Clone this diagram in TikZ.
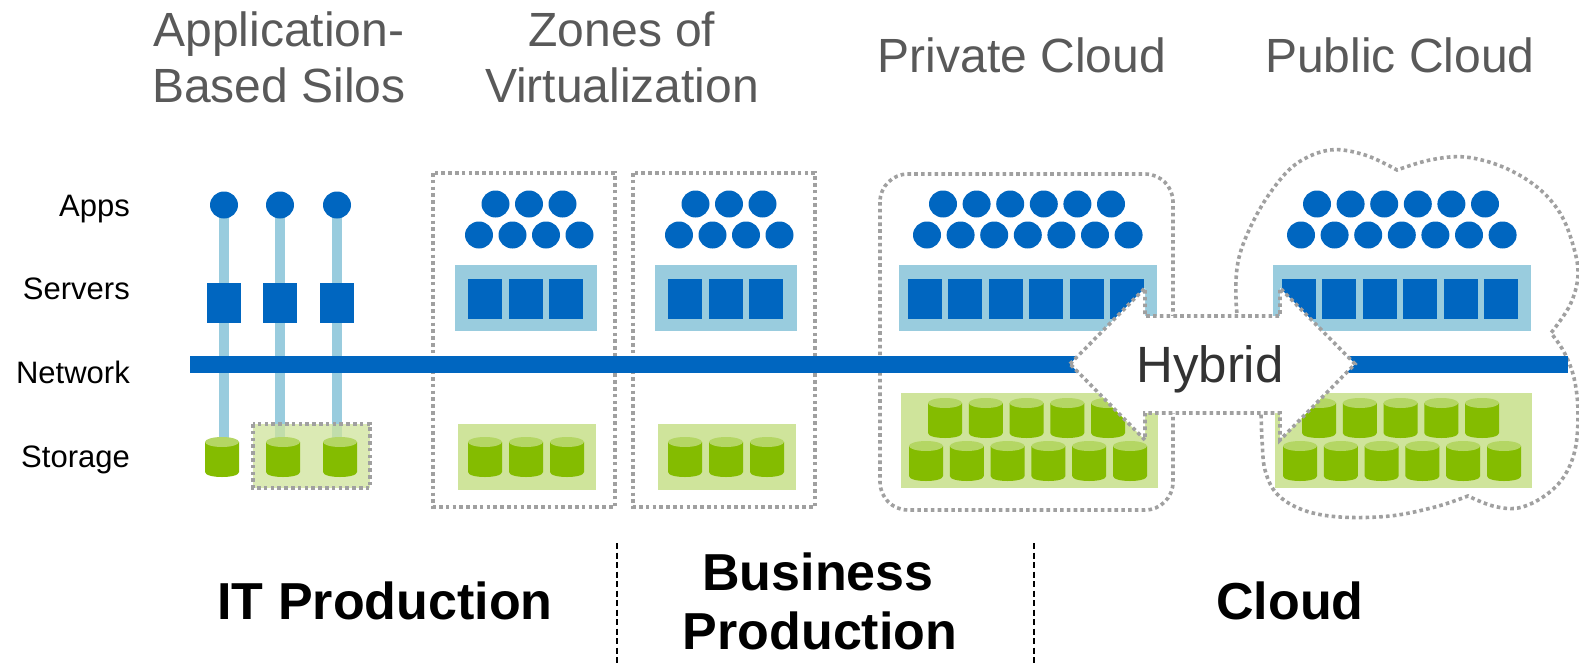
\documentclass[tikz,border=0pt]{standalone}
\usepackage{fontspec}
\setmainfont{Liberation Sans}
\definecolor{netblue}{RGB}{0,102,192}
\definecolor{paleblue}{RGB}{153,204,222}
\definecolor{cylgreen}{RGB}{132,188,0}
\definecolor{cyltop}{RGB}{180,214,100}
\definecolor{palegreen}{RGB}{207,228,155}
\definecolor{dotgray}{RGB}{160,160,160}
\definecolor{labelgray}{RGB}{89,89,89}
\definecolor{hybridtext}{RGB}{51,51,51}
\tikzset{
  dotframe/.style={draw=dotgray, line width=3.6pt, dash pattern=on 3.6pt off 3.2pt},
  rowlabel/.style={font=\fontsize{31}{36}\selectfont, anchor=base east, inner sep=0pt},
  toplabel/.style={font=\fontsize{48}{56}\selectfont, text=labelgray, anchor=base, inner sep=0pt},
  eralabel/.style={font=\fontsize{52}{60}\selectfont\bfseries, anchor=base, inner sep=0pt},
  sepline/.style={draw=black, line width=2pt, dash pattern=on 6pt off 3.5pt},
  silobar/.style={draw=paleblue, line width=10pt},
  netbar/.style={draw=netblue, line width=17pt},
  appdot/.pic={\fill[netblue] (0,0) ellipse [x radius=14, y radius=13.5];},
  srv/.pic={\fill[netblue] (0,0) rectangle (34,40);},
  drum/.pic={
    \fill[cylgreen] (0,5) -- (0,35) .. controls (0,41.67) and (34,41.67) .. (34,35) -- (34,5) -- cycle;
    \fill[cyltop] (17,5) ellipse [x radius=17, y radius=5];
  },
}
\begin{document}
\begin{tikzpicture}[x=1pt, y=-1pt]
\useasboundingbox (0,0) rectangle (1579,666);
\fill[white] (0,0) rectangle (1579,666);

% ---- frames: virtualization zones, private cloud, public cloud outline
\foreach \dx in {0,200} {
  \draw[dotframe] (433+\dx,173) rectangle (615+\dx,507);
}
\draw[dotframe, rounded corners=28pt] (880,174) rectangle (1173,510);
\draw[dotframe]
  plot[smooth, tension=0.6] coordinates {(1240,340) (1236,300) (1238,262) (1250,228) (1270,193) (1296,164) (1330,150) (1365,155) (1397,170)}
  -- plot[smooth, tension=0.6] coordinates {(1397,170) (1430,160) (1465,157) (1503,167) (1537,187) (1560,213) (1573,245) (1578,275) (1570,305) (1551,333)}
  -- plot[smooth, tension=0.6] coordinates {(1551,333) (1564,352) (1574,378) (1578,412) (1575,450) (1563,478) (1543,497) (1518,508) (1493,506) (1468,496)}
  -- plot[smooth, tension=0.6] coordinates {(1468,496) (1435,507) (1390,516) (1340,517) (1303,510) (1277,494) (1265,470) (1262,440) (1260,405) (1252,375) (1240,340)};

% ---- application-based silos
\foreach \x/\n in {224/1,280/2,337/3} {
  \coordinate (siloTop\n) at (\x,205);
  \coordinate (siloBot\n) at (\x,442);
  \draw[silobar] (siloTop\n) -- (siloBot\n);
}
\fill[palegreen, fill opacity=0.75] (253,424) rectangle (370,488);
\draw[dotframe] (253,424) rectangle (370,488);

% ---- network backbone
\coordinate (netW) at (190,364.5);
\coordinate (netE) at (1568,364.5);
\draw[netbar] (netW) -- (netE);

\foreach \x in {224,280,337} {
  \pic at (\x,205) {appdot};
  \pic at (\x-17,283) {srv};
}
\foreach \x in {205,266,323} {
  \pic at (\x,437) {drum};
}

% ---- zones of virtualization
\foreach \dx in {0,200} {
  \foreach \k in {0,1,2} \pic at ({495.5+33.5*\k+\dx},204) {appdot};
  \foreach \k in {0,...,3} \pic at ({479+33.5*\k+\dx},235) {appdot};
  \fill[paleblue] (455+\dx,265) rectangle (597+\dx,331);
  \foreach \k in {0,1,2} \pic at ({468+40.5*\k+\dx},279) {srv};
  \fill[palegreen] (458+\dx,424) rectangle (596+\dx,490);
  \foreach \k in {0,1,2} \pic at ({468+41*\k+\dx},437) {drum};
}

% ---- private and public cloud pools
\foreach \dx in {0,374} {
  \foreach \k in {0,...,5} \pic at ({943+33.6*\k+\dx},204) {appdot};
  \foreach \k in {0,...,6} \pic at ({927+33.6*\k+\dx},235) {appdot};
  \fill[paleblue] (899+\dx,265) rectangle (1157+\dx,331);
  \foreach \k in {0,...,5} \pic at ({908+40.4*\k+\dx},279) {srv};
  \fill[palegreen] (901+\dx,393) rectangle (1158+\dx,488);
  \foreach \k in {0,...,4} \pic at ({928+40.75*\k+\dx},398) {drum};
  \foreach \k in {0,...,5} \pic at ({909+40.8*\k+\dx},441) {drum};
}

% ---- hybrid double arrow
\draw[dotframe, fill=white] (1070,364) -- (1145,288) -- (1145,316) -- (1280,316)
  -- (1280,288) -- (1355,364) -- (1280,440) -- (1280,413) -- (1145,413)
  -- (1145,440) -- cycle;
\node[font=\fontsize{51}{58}\selectfont, text=hybridtext, anchor=base, inner sep=0pt]
  (hybrid) at (1210,382) {Hybrid};

% ---- row labels
\node[rowlabel] (lApps) at (130,216) {Apps};
\node[rowlabel] (lServers) at (130,299) {Servers};
\node[rowlabel] (lNetwork) at (130,383) {Network};
\node[rowlabel] (lStorage) at (130,467) {Storage};

% ---- column headings
\node[toplabel] (hSilo1) at (279,47) {Application-};
\node[toplabel] (hSilo2) at (279,103) {Based Silos};
\node[toplabel] (hZone1) at (622,47) {Zones of};
\node[toplabel] (hZone2) at (622,103) {Virtualization};
\node[toplabel] (hPriv) at (1022,73) {Private Cloud};
\node[toplabel] (hPub) at (1400,73) {Public Cloud};

% ---- eras
\coordinate (sepA1) at (617,543);
\coordinate (sepA2) at (617,666);
\coordinate (sepB1) at (1034,543);
\coordinate (sepB2) at (1034,666);
\draw[sepline] (sepA1) -- (sepA2);
\draw[sepline] (sepB1) -- (sepB2);
\node[eralabel] (eIT) at (385,619) {IT Production};
\node[eralabel] (eBiz1) at (818,590) {Business};
\node[eralabel] (eBiz2) at (820,649) {Production};
\node[eralabel] (eCloud) at (1290,619) {Cloud};
\end{tikzpicture}
\end{document}
